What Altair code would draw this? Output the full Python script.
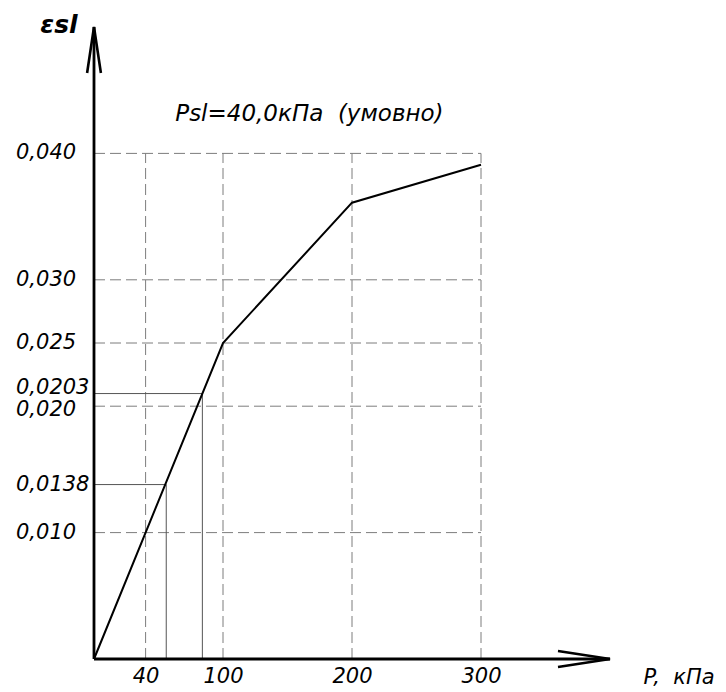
import altair as alt
import pandas as pd

# ---- data ----
curve_p = [0, 100, 200, 300]
curve_eps = [0.0, 0.025, 0.0361, 0.0391]

grid_eps = [0.010, 0.020, 0.025, 0.030, 0.040]
grid_p = [40, 100, 200, 300]

guide_p = [56, 84]               # thin solid construction lines
guide_eps = [0.0138, 0.0210]     # as drawn on the picture

x_ticks = [40, 100, 200, 300]
y_label_vals = [0.010, 0.0138, 0.020, 0.0210, 0.025, 0.030, 0.040]
y_label_txt = ["0,010", "0,0138", "0,020", "0,0203", "0,025", "0,030", "0,040"]
y_label_shift = [0, 0, 4, -6, 0, 0, 0]

p_max = 400
eps_max = 0.05
note_text = "Psl=40,0кПа\u00a0\u00a0(умовно)"
note_p = 63
note_eps = 0.0431

FONT = "DejaVu Sans"

xs = alt.Scale(domain=[0, p_max], nice=False, zero=False)
ys = alt.Scale(domain=[0, eps_max], nice=False, zero=False)
xaxis = alt.Axis(values=x_ticks, title="P,\u00a0\u00a0кПа", titleX=549, titleY=18,
                 titleAlign="left", titleBaseline="middle", titleAngle=0,
                 titleFont=FONT, titleFontSize=21, titleFontStyle="italic",
                 titleFontWeight="normal", titleColor="black",
                 labelFont=FONT, labelFontSize=21, labelFontStyle="italic",
                 labelColor="black", labelPadding=6, labelFlush=False,
                 labelOverlap=False, domain=False, ticks=False, grid=False)


def X(f):
    return alt.X(f, type="quantitative", scale=xs, axis=xaxis)


def Y(f):
    return alt.Y(f, type="quantitative", scale=ys, axis=None)


hgrid_df = pd.DataFrame({"y": grid_eps, "x0": 0, "x1": grid_p[-1]})
vgrid_df = pd.DataFrame({"x": grid_p, "y0": 0.0, "y1": grid_eps[-1]})
hguide_df = pd.DataFrame({"y": guide_eps, "x0": 0, "x1": guide_p})
vguide_df = pd.DataFrame({"x": guide_p, "y0": 0.0, "y1": guide_eps})
curve_df = pd.DataFrame({"p": curve_p, "eps": curve_eps})
yaxis_df = pd.DataFrame({"x": [0], "y0": [0.0], "y1": [eps_max]})
xaxis_df = pd.DataFrame({"y": [0.0], "x0": [0], "x1": [p_max]})
yarrow_df = pd.DataFrame({"x": [0], "y": [eps_max]})
xarrow_df = pd.DataFrame({"x": [p_max], "y": [0.0]})
lab_df = pd.DataFrame({"y": y_label_vals, "t": y_label_txt, "s": y_label_shift})
note_df = pd.DataFrame({"x": [note_p], "y": [note_eps], "t": [note_text]})

dash = dict(strokeDash=[11, 5], color="#7d7d7d", strokeWidth=1)
hgrid = alt.Chart(hgrid_df).mark_rule(**dash).encode(x=X("x0"), x2="x1", y=Y("y"))
vgrid = alt.Chart(vgrid_df).mark_rule(**dash).encode(x=X("x"), y=Y("y0"), y2="y1")

thin = dict(color="#555555", strokeWidth=1)
hguide = alt.Chart(hguide_df).mark_rule(**thin).encode(x=X("x0"), x2="x1", y=Y("y"))
vguide = alt.Chart(vguide_df).mark_rule(**thin).encode(x=X("x"), y=Y("y0"), y2="y1")

curve = alt.Chart(curve_df).mark_line(color="black", strokeWidth=2).encode(
    x=X("p"), y=Y("eps"))

ax = dict(color="black", strokeWidth=2.8)
yaxis_line = alt.Chart(yaxis_df).mark_rule(**ax).encode(x=X("x"), y=Y("y0"), y2="y1")
xaxis_line = alt.Chart(xaxis_df).mark_rule(**ax).encode(x=X("x0"), x2="x1", y=Y("y"))

yarrow = alt.Chart(yarrow_df).mark_point(
    shape="M -0.3 2 L 0 0 L 0.3 2", size=2116, filled=False, color="black",
    strokeWidth=2.6, opacity=1).encode(x=X("x"), y=Y("y"))
xarrow = alt.Chart(xarrow_df).mark_point(
    shape="M -2 -0.31 L 0 0 L -2 0.31", size=2704, filled=False, color="black",
    strokeWidth=2.6, opacity=1).encode(x=X("x"), y=Y("y"))

tstyle = dict(font=FONT, fontSize=21, fontStyle="italic", color="black",
              align="left", baseline="middle")
ylab_layers = []
for s in sorted(set(y_label_shift)):
    ylab_layers.append(
        alt.Chart(lab_df).transform_filter(alt.datum.s == s)
        .mark_text(dy=s, **tstyle)
        .encode(x=alt.value(-78), y=Y("y"), text="t:N"))

note = alt.Chart(note_df).mark_text(**{**tstyle, "fontSize": 23}).encode(
    x=X("x"), y=Y("y"), text="t:N")

ytitle = alt.Chart(note_df).mark_text(
    text="εsl", font=FONT, fontSize=25, fontStyle="italic", fontWeight="bold",
    color="black", align="center", baseline="middle").encode(
    x=alt.value(-35), y=alt.value(-2))

chart = alt.layer(hgrid, vgrid, hguide, vguide, curve, yaxis_line, xaxis_line,
                  yarrow, xarrow, *ylab_layers, note, ytitle).properties(
    width=516, height=632,
    autosize=alt.AutoSizeParams(type="none"),
    padding={"left": 86, "top": 19, "right": 108, "bottom": 31},
).configure_view(stroke=None)

chart.save("out.html", embed_options={"renderer": "svg", "actions": False})
